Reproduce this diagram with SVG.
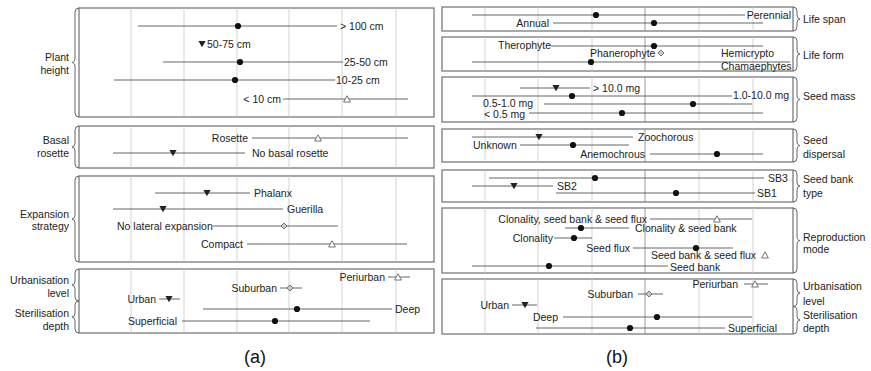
<svg xmlns="http://www.w3.org/2000/svg" xmlns:xlink="http://www.w3.org/1999/xlink" width="871" height="371" viewBox="0 0 871 371">
  <style>
    .box { fill: #fff; stroke: #7a7a7a; stroke-width: 1.3; }
    .grid { stroke: #c8c8c8; stroke-width: 0.8; }
    .grid0 { stroke: #8f8f8f; stroke-width: 0.9; }
    .ci { stroke: #555; stroke-width: 0.9; fill: none; }
    .brace { stroke: #666; stroke-width: 1; fill: none; }
    text { font-family: "Liberation Sans", Arial, sans-serif; font-size: 10.5px; fill: #222; }
    .r { text-anchor: end; }
    .cap { font-size: 18px; text-anchor: middle; fill: #111; }
  </style>
  <defs>
    <circle id="dot" r="3.1" fill="#111"/>
    <path id="tdn" d="M-3.6,-3 L3.6,-3 L0,3.2 Z" fill="#222"/>
    <path id="tup" d="M-3.4,3 L3.4,3 L0,-3.2 Z" fill="#fff" stroke="#666" stroke-width="0.9"/>
    <path id="dia" d="M-3,0 L0,-3 L3,0 L0,3 Z" fill="#ccc" stroke="#666" stroke-width="0.9"/>
  </defs>

  <!-- panel (a): trait boxes -->
  <g id="a-plant-height">
    <rect class="box" x="79" y="8" width="355" height="109"/>
    <path class="grid" d="M131,8V117M184,8V117M237,8V117M289,8V117M342,8V117M396,8V117"/>
    <path class="brace" d="M79,8 Q75,8 75,12 V58 Q75,62.5 72,62.5 Q75,62.5 75,67 V113 Q75,117 79,117"/>
    <text class="r" x="69" y="61">Plant</text>
    <text class="r" x="69" y="74">height</text>
  </g>
  <g id="a-basal-rosette">
    <rect class="box" x="79" y="126" width="355" height="42"/>
    <path class="grid" d="M131,126V168M184,126V168M237,126V168M289,126V168M342,126V168M396,126V168"/>
    <path class="brace" d="M79,126 Q75,126 75,130 V143 Q75,147 72,147 Q75,147 75,151 V164 Q75,168 79,168"/>
    <text class="r" x="69" y="144">Basal</text>
    <text class="r" x="69" y="157">rosette</text>
  </g>
  <g id="a-expansion">
    <rect class="box" x="79" y="176" width="355" height="86"/>
    <path class="grid" d="M131,176V262M184,176V262M237,176V262M289,176V262M342,176V262M396,176V262"/>
    <path class="brace" d="M79,176 Q75,176 75,180 V215 Q75,219 72,219 Q75,219 75,223 V258 Q75,262 79,262"/>
    <text class="r" x="69" y="218">Expansion</text>
    <text class="r" x="69" y="230">strategy</text>
  </g>
  <g id="a-urban-steril">
    <rect class="box" x="79" y="269" width="355" height="64"/>
    <path class="grid" d="M131,269V333M184,269V333M237,269V333M289,269V333M342,269V333M396,269V333"/>
    <path class="brace" d="M79,269 Q75,269 75,273 V281 Q75,285 72,285 Q75,285 75,289 V297 Q75,301 79,301"/>
    <path class="brace" d="M79,301 Q75,301 75,305 V313 Q75,317 72,317 Q75,317 75,321 V329 Q75,333 79,333"/>
    <text class="r" x="69" y="284">Urbanisation</text>
    <text class="r" x="69" y="297">level</text>
    <text class="r" x="69" y="317">Sterilisation</text>
    <text class="r" x="69" y="330">depth</text>
  </g>

  <!-- panel (b): trait boxes -->
  <g id="b-life-span">
    <rect class="box" x="442" y="7" width="351" height="24"/>
    <path class="grid" d="M485,7V31M538,7V31M592,7V31M699,7V31M753,7V31"/>
    <path class="grid0" d="M645,7V31"/>
    <path class="brace" d="M793,7 Q797,7 797,11 V15 Q797,19 800,19 Q797,19 797,23 V27 Q797,31 793,31"/>
    <text x="803" y="23">Life span</text>
  </g>
  <g id="b-life-form">
    <rect class="box" x="442" y="37" width="351" height="34"/>
    <path class="grid" d="M485,37V71M538,37V71M592,37V71M699,37V71M753,37V71"/>
    <path class="grid0" d="M645,37V71"/>
    <path class="brace" d="M793,37 Q797,37 797,41 V50 Q797,54 800,54 Q797,54 797,58 V67 Q797,71 793,71"/>
    <text x="803" y="59">Life form</text>
  </g>
  <g id="b-seed-mass">
    <rect class="box" x="442" y="77" width="351" height="45"/>
    <path class="grid" d="M485,77V122M538,77V122M592,77V122M699,77V122M753,77V122"/>
    <path class="grid0" d="M645,77V122"/>
    <path class="brace" d="M793,77 Q797,77 797,81 V95 Q797,99.5 800,99.5 Q797,99.5 797,104 V118 Q797,122 793,122"/>
    <text x="803" y="100">Seed mass</text>
  </g>
  <g id="b-seed-dispersal">
    <rect class="box" x="442" y="129" width="351" height="33"/>
    <path class="grid" d="M485,129V162M538,129V162M592,129V162M699,129V162M753,129V162"/>
    <path class="grid0" d="M645,129V162"/>
    <path class="brace" d="M793,129 Q797,129 797,133 V141 Q797,145.5 800,145.5 Q797,145.5 797,150 V158 Q797,162 793,162"/>
    <text x="803" y="144">Seed</text>
    <text x="803" y="158">dispersal</text>
  </g>
  <g id="b-seed-bank">
    <rect class="box" x="442" y="170" width="351" height="32"/>
    <path class="grid" d="M485,170V202M538,170V202M592,170V202M699,170V202M753,170V202"/>
    <path class="grid0" d="M645,170V202"/>
    <path class="brace" d="M793,170 Q797,170 797,174 V182 Q797,186 800,186 Q797,186 797,190 V198 Q797,202 793,202"/>
    <text x="803" y="183">Seed bank</text>
    <text x="803" y="197">type</text>
  </g>
  <g id="b-reproduction">
    <rect class="box" x="442" y="208" width="351" height="65"/>
    <path class="grid" d="M485,208V273M538,208V273M592,208V273M699,208V273M753,208V273"/>
    <path class="grid0" d="M645,208V273"/>
    <path class="brace" d="M793,208 Q797,208 797,212 V236 Q797,240.5 800,240.5 Q797,240.5 797,245 V269 Q797,273 793,273"/>
    <text x="803" y="241">Reproduction</text>
    <text x="803" y="253">mode</text>
  </g>
  <g id="b-urban-steril">
    <rect class="box" x="442" y="279" width="351" height="55"/>
    <path class="grid" d="M485,279V334M538,279V334M592,279V334M699,279V334M753,279V334"/>
    <path class="grid0" d="M645,279V334"/>
    <path class="brace" d="M793,279 Q797,279 797,283 V289 Q797,293 800,293 Q797,293 797,297 V303 Q797,306.5 793,306.5"/>
    <path class="brace" d="M793,306.5 Q797,306.5 797,310 V316 Q797,320 800,320 Q797,320 797,324 V330 Q797,334 793,334"/>
    <text x="803" y="290">Urbanisation</text>
    <text x="803" y="305">level</text>
    <text x="803" y="319">Sterilisation</text>
    <text x="803" y="332">depth</text>
  </g>

  <!-- interval lines -->
  <g id="connectors" class="ci">
    <path d="M138,26H337M163,62H343M114,80H335M283,99H408"/>
    <path d="M252,138H408M113,153H245"/>
    <path d="M155,193H250M113,209H283M213,226H338M247,244H407"/>
    <path d="M388,277H410M280,288H302M159,299H180M203,309H392M182,321H370"/>
    <path d="M472,15H745M553,23H763"/>
    <path d="M551,46H763M472,62H790"/>
    <path d="M520,88H590M472,96H732M544,104H752M529,113H763"/>
    <path d="M472,137H633M520,145H629M650,154H763"/>
    <path d="M489,178H764M472,186H553M556,193H755"/>
    <path d="M650,219H752M565,228H629M554,238H592M633,248H733M472,266H668"/>
    <path d="M744,284H768M638,294H663M512,305H537M563,317H752M536,328H725"/>
  </g>

  <!-- estimates and category labels -->
  <g id="a-points">
    <use xlink:href="#dot" x="238" y="26"/>
    <text x="340" y="30">&gt; 100 cm</text>
    <use xlink:href="#tdn" x="202" y="44"/>
    <text x="207" y="48">50-75 cm</text>
    <use xlink:href="#dot" x="240" y="62"/>
    <text x="344" y="66">25-50 cm</text>
    <use xlink:href="#dot" x="235" y="80"/>
    <text x="336" y="84">10-25 cm</text>
    <text class="r" x="281" y="103">&lt; 10 cm</text>
    <use xlink:href="#tup" x="347" y="99"/>

    <text class="r" x="248" y="142">Rosette</text>
    <use xlink:href="#tup" x="318" y="138"/>
    <use xlink:href="#tdn" x="173" y="153"/>
    <text x="252" y="157">No basal rosette</text>

    <use xlink:href="#tdn" x="207" y="193"/>
    <text x="254" y="197">Phalanx</text>
    <use xlink:href="#tdn" x="163" y="209"/>
    <text x="287" y="213">Guerilla</text>
    <text x="117" y="230">No lateral expansion</text>
    <use xlink:href="#dia" x="284" y="226"/>
    <text class="r" x="243" y="248">Compact</text>
    <use xlink:href="#tup" x="332" y="244"/>

    <text class="r" x="385" y="281">Periurban</text>
    <use xlink:href="#tup" x="398" y="277"/>
    <text class="r" x="277" y="292">Suburban</text>
    <use xlink:href="#dia" x="290" y="288"/>
    <text class="r" x="156" y="303">Urban</text>
    <use xlink:href="#tdn" x="169" y="299"/>
    <use xlink:href="#dot" x="297" y="309"/>
    <text x="395" y="313">Deep</text>
    <text class="r" x="177" y="325">Superficial</text>
    <use xlink:href="#dot" x="275" y="321"/>
  </g>

  <g id="b-points">
    <use xlink:href="#dot" x="596" y="15"/>
    <text class="r" x="791" y="19">Perennial</text>
    <text class="r" x="549" y="27">Annual</text>
    <use xlink:href="#dot" x="654" y="23"/>

    <text x="498" y="49">Therophyte</text>
    <use xlink:href="#dot" x="654" y="46"/>
    <text x="590" y="57">Phanerophyte</text>
    <use xlink:href="#dia" x="661" y="53"/>
    <text x="721" y="57">Hemicrypto</text>
    <use xlink:href="#dot" x="591" y="62"/>
    <text x="721" y="70">Chamaephytes</text>

    <use xlink:href="#tdn" x="556" y="88"/>
    <text x="593" y="92">&gt; 10.0 mg</text>
    <use xlink:href="#dot" x="572" y="96"/>
    <text x="733" y="99">1.0-10.0 mg</text>
    <text x="483" y="107">0.5-1.0 mg</text>
    <use xlink:href="#dot" x="693" y="104"/>
    <text x="484" y="118">&lt; 0.5 mg</text>
    <use xlink:href="#dot" x="622" y="113"/>

    <use xlink:href="#tdn" x="539" y="137"/>
    <text x="638" y="141">Zoochorous</text>
    <text x="473" y="149">Unknown</text>
    <use xlink:href="#dot" x="573" y="145"/>
    <text class="r" x="645" y="158">Anemochrous</text>
    <use xlink:href="#dot" x="717" y="154"/>

    <use xlink:href="#dot" x="595" y="178"/>
    <text x="768" y="182">SB3</text>
    <use xlink:href="#tdn" x="514" y="186"/>
    <text x="557" y="190">SB2</text>
    <use xlink:href="#dot" x="676" y="193"/>
    <text x="757" y="197">SB1</text>

    <text class="r" x="647" y="223">Clonality, seed bank &amp; seed flux</text>
    <use xlink:href="#tup" x="717" y="219"/>
    <use xlink:href="#dot" x="581" y="228"/>
    <text x="635" y="232">Clonality &amp; seed bank</text>
    <text class="r" x="553" y="242">Clonality</text>
    <use xlink:href="#dot" x="574" y="238"/>
    <text class="r" x="630" y="252">Seed flux</text>
    <use xlink:href="#dot" x="696" y="248"/>
    <text x="651" y="259">Seed bank &amp; seed flux</text>
    <use xlink:href="#tup" x="765" y="255"/>
    <use xlink:href="#dot" x="549" y="266"/>
    <text x="670" y="271">Seed bank</text>

    <text class="r" x="738" y="288">Periurban</text>
    <use xlink:href="#tup" x="755" y="284"/>
    <text class="r" x="633" y="298">Suburban</text>
    <use xlink:href="#dia" x="649" y="294"/>
    <text class="r" x="509" y="309">Urban</text>
    <use xlink:href="#tdn" x="525" y="305"/>
    <text class="r" x="558" y="321">Deep</text>
    <use xlink:href="#dot" x="657" y="317"/>
    <use xlink:href="#dot" x="630" y="328"/>
    <text x="728" y="332">Superficial</text>
  </g>

  <text class="cap" x="255" y="363">(a)</text>
  <text class="cap" x="617" y="363">(b)</text>
</svg>
